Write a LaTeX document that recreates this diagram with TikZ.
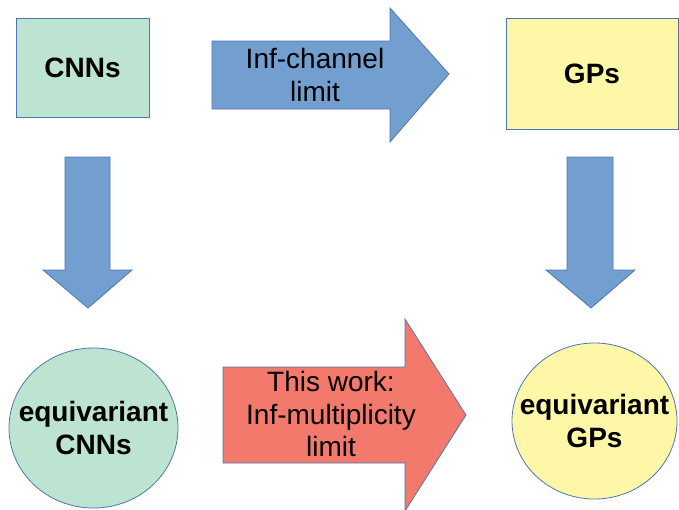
\documentclass[tikz,border=0pt]{standalone}
\usepackage{fontspec}
\setmainfont{Liberation Sans}
\usetikzlibrary{shapes.geometric}
\definecolor{arrblue}{HTML}{729FCF}
\definecolor{edgeblue}{HTML}{4E76B0}
\definecolor{boxgreen}{HTML}{BDE3D1}
\definecolor{boxyellow}{HTML}{FFF7A8}
\definecolor{arrred}{HTML}{F4796D}
\begin{document}
\begin{tikzpicture}[x=1pt,y=-1pt,
  lbl/.style={font=\fontsize{28}{32.5}\selectfont, align=center, inner sep=0pt, text=black},
  blbl/.style={lbl, font=\fontsize{28}{32.5}\selectfont\bfseries},
  shapeline/.style={draw=edgeblue, line width=0.8pt, line join=miter},
  bluearrow/.style={shapeline, fill=arrblue},
  redarrow/.style={shapeline, fill=arrred}]
\useasboundingbox (0,0) rectangle (679,509);
% boxes
\node[shapeline, fill=boxgreen, minimum width=133pt, minimum height=99pt, inner sep=0pt] (cnn) at (82.5,67.5) {};
\node[blbl] (cnnt) at (cnn.center) {CNNs};
\node[shapeline, fill=boxyellow, minimum width=172pt, minimum height=111pt, inner sep=0pt] (gp) at (592,73.5) {};
\node[blbl] (gpt) at (gp.center) {GPs};
% ellipses
\node[shapeline, fill=boxgreen, ellipse, minimum width=169pt, minimum height=160pt, inner sep=0pt] (ecnn) at (93.5,428) {};
\node[blbl] (ecnnt) at (ecnn.center) {equivariant\\CNNs};
\node[shapeline, fill=boxyellow, ellipse, minimum width=165pt, minimum height=156pt, inner sep=0pt] (egp) at (594.5,421) {};
\node[blbl] (egpt) at (egp.center) {equivariant\\GPs};
% block arrows
\draw[bluearrow] (212,41) -- (390,41) -- (390,8) -- (449,74) -- (390,142) -- (390,109) -- (212,109) -- cycle;
\node[lbl] (chan) at (315,75) {Inf-channel\\limit};
\draw[bluearrow] (65,157) -- (110,157) -- (110,270) -- (132,270) -- (88,308) -- (43,270) -- (65,270) -- cycle;
\draw[bluearrow] (567,157) -- (613,157) -- (613,270) -- (635,270) -- (591,308) -- (546,270) -- (567,270) -- cycle;
\draw[redarrow] (223,367) -- (405,367) -- (405,319) -- (466,415) -- (405,511) -- (405,463) -- (223,463) -- cycle;
\node[lbl] (mult) at (331,414) {This work:\\Inf-multiplicity\\limit};
\end{tikzpicture}
\end{document}
